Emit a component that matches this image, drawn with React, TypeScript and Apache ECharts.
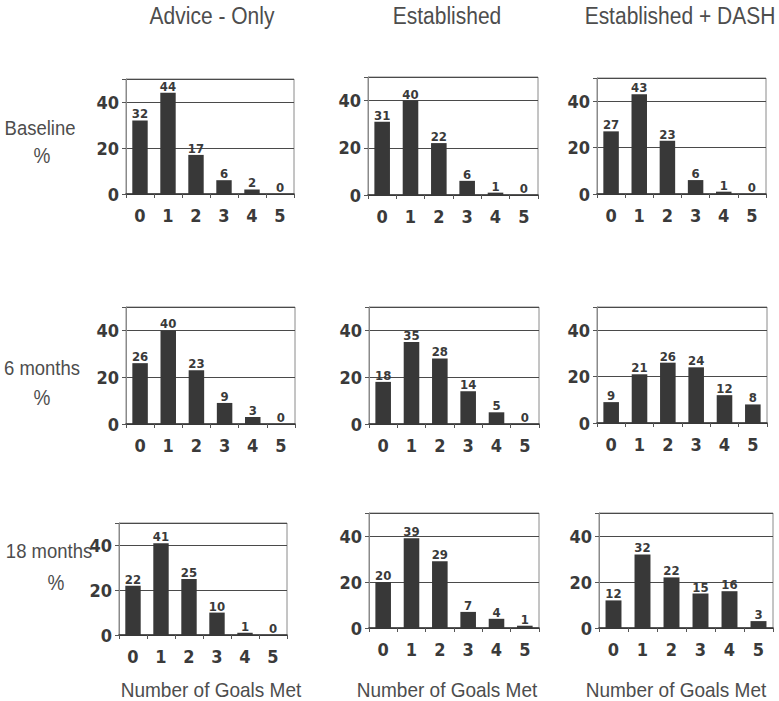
import React, { useEffect, useRef } from "react";
import * as echarts from "echarts";

// ---- data ----
const goals = ["0", "1", "2", "3", "4", "5"];
const groupTitles = ["Advice - Only", "Established", "Established + DASH"];
const timepoints = ["Baseline", "6 months", "18 months"];
const yTickValues = [0, 20, 40];
const yMax = 50;
const xAxisTitle = "Number of Goals Met";

const adviceBaseline = [32, 44, 17, 6, 2, 0];
const establishedBaseline = [31, 40, 22, 6, 1, 0];
const dashBaseline = [27, 43, 23, 6, 1, 0];
const advice6m = [26, 40, 23, 9, 3, 0];
const established6m = [18, 35, 28, 14, 5, 0];
const dash6m = [9, 21, 26, 24, 12, 8];
const advice18m = [22, 41, 25, 10, 1, 0];
const established18m = [20, 39, 29, 7, 4, 1];
const dash18m = [12, 32, 22, 15, 16, 3];

const panelData = [
  [adviceBaseline, establishedBaseline, dashBaseline],
  [advice6m, established6m, dash6m],
  [advice18m, established18m, dash18m],
];

// ---- layout (px) ----
const gridBoxes = [
  [
    [126, 79, 168, 115],
    [368, 77, 170, 118],
    [597, 78, 169, 116],
  ],
  [
    [126, 307, 169, 117],
    [369, 307, 170, 117],
    [597, 307, 170, 116],
  ],
  [
    [119, 523, 168, 112],
    [369, 513, 170, 115],
    [599, 513, 174, 115],
  ],
];
const titlePos = [
  [212, 16],
  [447, 16],
  [680, 16],
];
const rowLabelPos = [
  [[40, 128], [42, 156]],
  [[42, 368], [42, 398]],
  [[49, 551], [56, 583]],
];
const xTitlePos = [
  [211, 690],
  [447, 690],
  [676, 690],
];

const condensed = "'DejaVu Sans Condensed', 'Liberation Sans Narrow', 'Arial Narrow', 'Liberation Sans', Arial, sans-serif";
const sans = "'Liberation Sans', Arial, Helvetica, sans-serif";
const textGray = "#4d4d4d";
const barColor = "#383838";

export default function App() {
  const ref = useRef<HTMLDivElement>(null);

  useEffect(() => {
    if (!ref.current) return;
    const chart = echarts.init(ref.current, undefined, { renderer: "svg" });

    const grids: any[] = [];
    const xAxes: any[] = [];
    const yAxes: any[] = [];
    const series: any[] = [];
    let idx = 0;
    for (let r = 0; r < 3; r++) {
      for (let c = 0; c < 3; c++) {
        const [left, top, width, height] = gridBoxes[r][c];
        grids.push({
          left,
          top,
          width,
          height,
          show: true,
          borderColor: "#8a8a8a",
          borderWidth: 1,
          backgroundColor: "transparent",
        });
        xAxes.push({
          type: "category",
          gridIndex: idx,
          data: goals,
          boundaryGap: true,
          axisLine: { show: true, lineStyle: { color: "#333", width: 1.5 } },
          axisTick: { show: true, length: 4, alignWithLabel: false, lineStyle: { color: "#555" } },
          axisLabel: {
            margin: 12,
            fontFamily: condensed,
            fontWeight: "bold",
            fontSize: 18,
            color: "#3a3a3a",
          },
          splitLine: { show: false },
        });
        yAxes.push({
          type: "value",
          gridIndex: idx,
          min: 0,
          max: yMax,
          interval: 20,
          axisLine: { show: true, lineStyle: { color: "#8a8a8a" } },
          axisTick: { show: true, length: 4, lineStyle: { color: "#555" } },
          axisLabel: {
            margin: 7,
            fontFamily: condensed,
            fontWeight: "bold",
            fontSize: 18,
            color: "#3a3a3a",
            formatter: (v: number) => (yTickValues.includes(v) ? String(v) : ""),
          },
          splitLine: { show: true, lineStyle: { color: "#4a4a4a", width: 1 } },
        });
        series.push({
          type: "bar",
          xAxisIndex: idx,
          yAxisIndex: idx,
          data: panelData[r][c],
          barWidth: "55%",
          itemStyle: { color: barColor },
          label: {
            show: true,
            position: "top",
            distance: 0,
            fontFamily: condensed,
            fontWeight: "bold",
            fontSize: 13,
            color: "#3a3a3a",
          },
        });
        idx++;
      }
    }

    const graphics: any[] = [];
    groupTitles.forEach((t, i) => {
      graphics.push({
        type: "text",
        x: titlePos[i][0],
        y: titlePos[i][1],
        scaleY: 1.12,
        style: { text: t, fontFamily: sans, fontSize: 21, fill: textGray, align: "center", verticalAlign: "middle" },
      });
      graphics.push({
        type: "text",
        x: xTitlePos[i][0],
        y: xTitlePos[i][1],
        scaleY: 1.05,
        style: { text: xAxisTitle, fontFamily: sans, fontSize: 19, fill: textGray, align: "center", verticalAlign: "middle" },
      });
    });
    timepoints.forEach((t, i) => {
      graphics.push({
        type: "text",
        x: rowLabelPos[i][0][0],
        y: rowLabelPos[i][0][1],
        scaleY: 1.12,
        style: { text: t, fontFamily: sans, fontSize: 18.5, fill: textGray, align: "center", verticalAlign: "middle" },
      });
      graphics.push({
        type: "text",
        x: rowLabelPos[i][1][0],
        y: rowLabelPos[i][1][1],
        scaleY: 1.12,
        style: { text: "%", fontFamily: sans, fontSize: 19, fill: textGray, align: "center", verticalAlign: "middle" },
      });
    });

    chart.setOption({
      animation: false,
      backgroundColor: "#ffffff",
      grid: grids,
      xAxis: xAxes,
      yAxis: yAxes,
      series,
      graphic: graphics,
    });

    return () => chart.dispose();
  }, []);

  return (
    <div
      ref={ref}
      style={{ position: "absolute", left: 0, top: 0, width: 779, height: 701 }}
    />
  );
}
